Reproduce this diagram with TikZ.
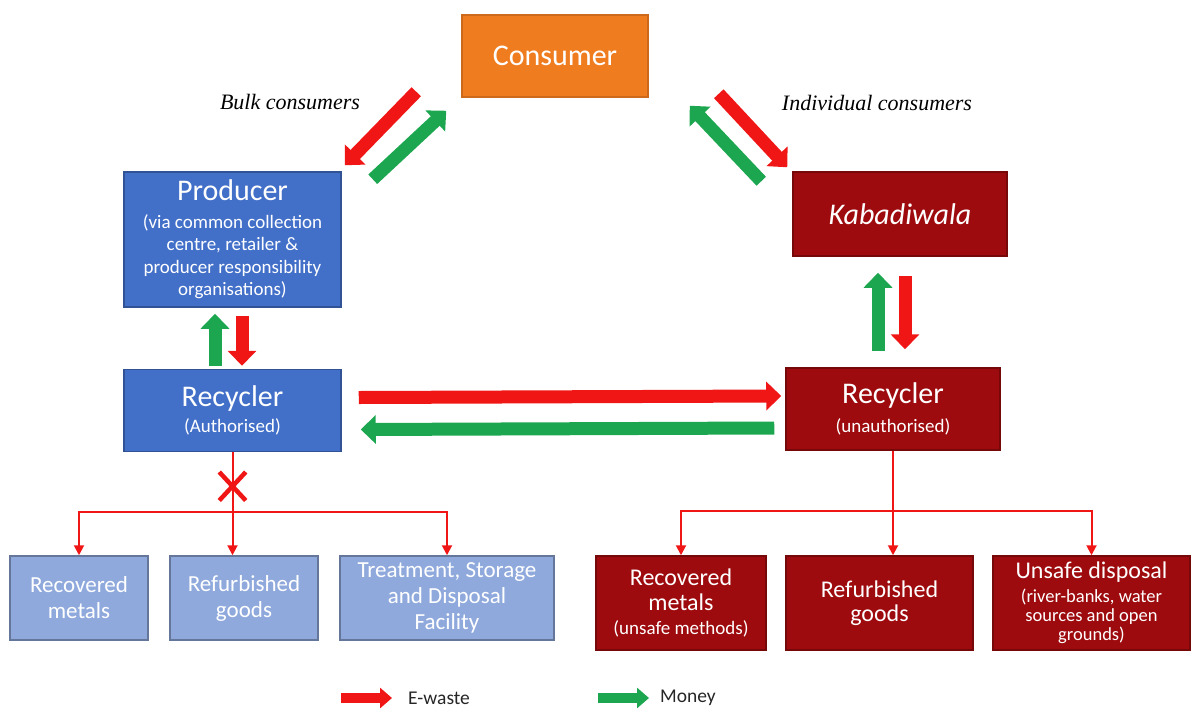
\documentclass[tikz,border=0pt]{standalone}
\usepackage{fontspec}
\setmainfont{Carlito}
\newfontfamily\labelfont{Liberation Serif}
\usetikzlibrary{positioning,arrows.meta,shapes.misc}
\definecolor{consOrange}{RGB}{240,124,32}
\definecolor{authBlue}{RGB}{66,111,200}
\definecolor{paleBlue}{RGB}{143,169,220}
\definecolor{unauthRed}{RGB}{158,11,14}
\definecolor{ewasteRed}{RGB}{240,22,22}
\definecolor{moneyGreen}{RGB}{28,166,80}
\tikzset{Box/.style={%
    shape=rectangle,%
    text=white,%
    align=center,%
    inner sep=2pt,%
    line width=1.5pt,%
}}
\tikzset{ConsumerBox/.style={%
    Box,%
    fill=consOrange,%
    draw=consOrange!85!black,%
    font=\fontsize{30}{34}\selectfont,%
}}
\tikzset{AuthBox/.style={%
    Box,%
    fill=authBlue,%
    draw=authBlue!75!black,%
    font=\fontsize{19}{22.5}\selectfont,%
}}
\tikzset{UnauthBox/.style={%
    Box,%
    fill=unauthRed,%
    draw=unauthRed!75!black,%
    font=\fontsize{19}{24.5}\selectfont,%
}}
\tikzset{PaleBox/.style={%
    Box,%
    fill=paleBlue,%
    draw=paleBlue!70!black,%
    font=\fontsize{23}{26}\selectfont,%
}}
\tikzset{EwasteArrow/.style={%
    -{Triangle[length=15pt,width=28pt]},%
    draw=ewasteRed,%
    line width=13pt,%
}}
\tikzset{MoneyArrow/.style={%
    -{Triangle[length=15pt,width=28pt]},%
    draw=moneyGreen,%
    line width=13pt,%
}}
\tikzset{TreeLine/.style={%
    draw=ewasteRed,%
    line width=2pt,%
}}
\tikzset{TreeArrow/.style={%
    TreeLine,%
    -{Triangle[length=10pt,width=10pt]},%
}}
\tikzset{XMark/.style={%
    cross out,%
    draw=ewasteRed,%
    line width=4.5pt,%
    minimum width=22pt,%
    minimum height=24pt,%
    inner sep=0pt,%
}}
\tikzset{FlowLabel/.style={%
    font=\labelfont\itshape\fontsize{22}{26}\selectfont,%
}}
\tikzset{LegendText/.style={%
    font=\fontsize{19.5}{22}\selectfont,%
    text=black!85,%
    anchor=west,%
    inner sep=0pt,%
}}
\newcommand{\boxTitle}[1]{{\fontsize{30}{34}\selectfont #1}}
\newcommand{\boxMid}[1]{{\fontsize{24}{28}\selectfont #1}}

\begin{document}
\begin{tikzpicture}[x=1pt,y=-1pt]
    \useasboundingbox (0,0) rectangle (1198,715);
    \node[ConsumerBox, minimum width=186pt, minimum height=82pt] (cons) at (555,56) {Consumer};
    \node[AuthBox, minimum width=217pt, minimum height=135pt] (prod) at (232.5,239.5)
        {\boxTitle{Producer}\\[5pt](via common collection\\centre, retailer \&\\producer responsibility\\organisations)};
    \node[AuthBox, minimum width=217pt, minimum height=82pt, below=61pt of prod] (recA)
        {\boxTitle{Recycler}\\[4pt](Authorised)};
    \node[UnauthBox, minimum width=214pt, minimum height=84pt] (kab) at (900,214)
        {\boxTitle{\itshape Kabadiwala}};
    \node[UnauthBox, minimum width=214pt, minimum height=82pt] (recU) at (893,409)
        {\boxTitle{Recycler}\\[4pt](unauthorised)};

    % authorised outputs
    \node[PaleBox, minimum width=138pt, minimum height=84pt] (lrm) at (79,598) {Recovered\\metals};
    \node[PaleBox, minimum width=148pt, minimum height=84pt] (lrg) at (244,598) {Refurbished\\goods};
    \node[PaleBox, minimum width=214pt, minimum height=84pt] (ltsd) at (447,598)
        {Treatment, Storage\\and Disposal\\Facility};

    % unauthorised outputs
    \node[UnauthBox, minimum width=170pt, minimum height=94pt] (rrm) at (681,603)
        {\boxMid{Recovered}\\\boxMid{metals}\\(unsafe methods)};
    \node[UnauthBox, minimum width=187pt, minimum height=94pt] (rrg) at (879.5,603)
        {\boxMid{Refurbished}\\\boxMid{goods}};
    \node[UnauthBox, minimum width=197pt, minimum height=94pt, font=\fontsize{18.5}{19}\selectfont] (rud) at (1091.5,603)
        {\boxMid{Unsafe disposal}\\[5pt](river-banks, water\\sources and open\\grounds)};

    \node[FlowLabel] (bulk) at (290,102) {Bulk consumers};
    \node[FlowLabel] (indiv) at (877,103) {Individual consumers};

    % consumer flows
    \draw[EwasteArrow] ([xshift=-45pt,yshift=6pt]cons.south west) -- ([xshift=3pt,yshift=6pt]prod.north east);
    \draw[MoneyArrow] ([xshift=31pt,yshift=-8pt]prod.north east) -- ([xshift=-15pt,yshift=-13pt]cons.south west);
    \draw[EwasteArrow] ([xshift=70pt,yshift=4pt]cons.south east) -- ([xshift=-5pt,yshift=4pt]kab.north west);
    \draw[MoneyArrow] ([xshift=-31pt,yshift=-10pt]kab.north west) -- ([xshift=41pt,yshift=-8pt]cons.south east);

    % producer - recycler
    \draw[MoneyArrow] ([xshift=-17.5pt,yshift=3pt]recA.north) -- ([xshift=-17.5pt,yshift=-6pt]prod.south);
    \draw[EwasteArrow] ([xshift=9.5pt,yshift=-8pt]prod.south) -- ([xshift=9.5pt,yshift=3pt]recA.north);
    \draw[MoneyArrow] ([xshift=-15pt,yshift=16pt]recU.north) -- ([xshift=-22pt,yshift=-16pt]kab.south);
    \draw[EwasteArrow] ([xshift=5pt,yshift=-19pt]kab.south) -- ([xshift=12pt,yshift=18pt]recU.north);

    % between recyclers
    \draw[EwasteArrow] ([xshift=17pt,yshift=13pt]recA.east) -- ([xshift=-4pt,yshift=13pt]recU.west);
    \draw[MoneyArrow] ([xshift=-11pt,yshift=-19pt]recU.west) -- ([xshift=19pt,yshift=-19pt]recA.east);

    % output trees
    \coordinate (lsplit) at ([yshift=-60pt]recA.south);
    \coordinate (rsplit) at ([yshift=-60pt]recU.south);
    \draw[TreeLine] (recA.south) -- (lsplit);
    \draw[TreeArrow] (lsplit) -| (lrm.north);
    \draw[TreeArrow] (lsplit) -- (lsplit |- lrg.north);
    \draw[TreeArrow] (lsplit) -| (ltsd.north);
    \node[XMark] (nogo) at ([yshift=-34pt]recA.south) {};
    \draw[TreeLine] (recU.south) -- (rsplit);
    \draw[TreeArrow] (rsplit) -| (rrm.north);
    \draw[TreeArrow] (rsplit) -- (rsplit |- rrg.north);
    \draw[TreeArrow] (rsplit) -| (rud.north);

    % legend
    \node[LegendText] (lgEwaste) at (408,698) {E-waste};
    \node[LegendText] (lgMoney) at (660,698) {Money};
    \draw[EwasteArrow, line width=10pt, -{Triangle[length=12pt,width=20pt]}] ([xshift=-67pt]lgEwaste.west) -- ([xshift=-16pt]lgEwaste.west);
    \draw[MoneyArrow, line width=10pt, -{Triangle[length=12pt,width=20pt]}] ([xshift=-62pt]lgMoney.west) -- ([xshift=-11pt]lgMoney.west);
\end{tikzpicture}
\end{document}
